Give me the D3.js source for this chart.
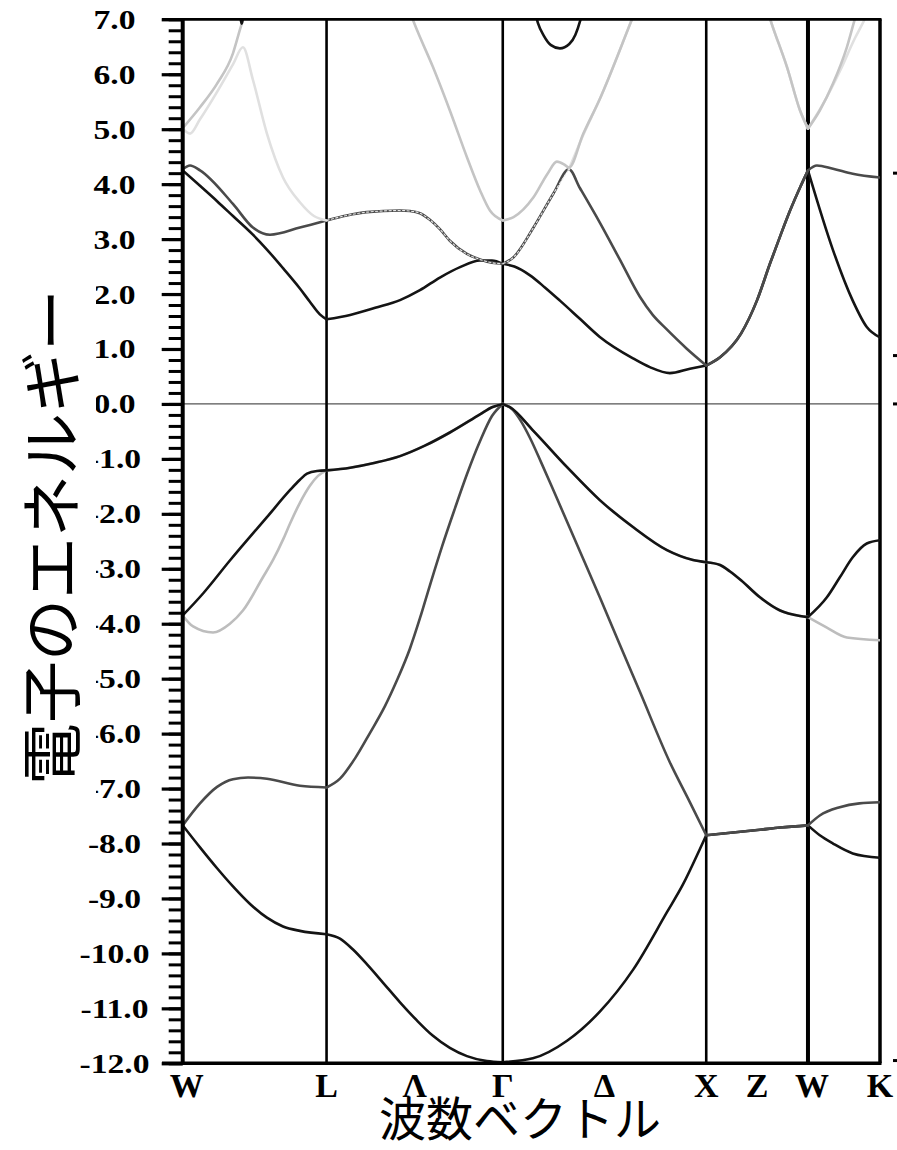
<!DOCTYPE html>
<html>
<head>
<meta charset="utf-8">
<script src="https://cdn.jsdelivr.net/npm/d3@7"></script>
<style>
  body { margin: 0; background: #fff; }
  svg { display: block; }
</style>
</head>
<body>
<svg id="chart" width="897" height="1150"></svg>
<script>
// ! symmetry points along the path W-L-Γ-X-W-K (k in units of 2π/a)
const symK = [0, 0.707, 1.573, 2.573, 3.073, 3.427];
const kLabels = ["W", "L", "Λ", "Γ", "Δ", "X", "Z", "W", "K"];
const kLabelPos = [0, 0.707, 1.140, 1.573, 2.073, 2.573, 2.823, 3.073, 3.427];

// ! energy axis (eV)
const yTicks = d3.range(7, -12.5, -1);
const yTickLabels = ["7.0", "6.0", "5.0", "4.0", "3.0", "2.0", "1.0", "0.0", "-1.0", "-2.0",
  "-3.0", "-4.0", "-5.0", "-6.0", "-7.0", "-8.0", "-9.0", "-10.0", "-11.0", "-12.0"];
const yMinor = d3.range(-12, 7.01, 0.2);
const rightMarks = [4.2, 0.88, 0, -11.95];

// ! bands as [k, E]
// degenerate stretches shared between bands
const valLG = [[0.823, -1.16], [0.946, -1.07], [1.068, -0.95], [1.190, -0.76], [1.313, -0.52],
  [1.461, -0.19], [1.520, -0.06], [1.573, 0]];
const valGX = [[1.608, -0.06], [1.721, -0.48], [1.889, -1.15], [2.050, -1.75], [2.213, -2.24],
  [2.380, -2.66], [2.508, -2.84], [2.573, -2.88]];
const valXW = [[2.641, -2.93], [2.690, -3.05], [2.744, -3.21], [2.837, -3.52], [2.936, -3.76],
  [3.034, -3.86], [3.073, -3.88]];
const lowXW = [[2.705, -7.80], [2.837, -7.75], [2.936, -7.71], [3.073, -7.67]];
const condXW = [[2.641, 0.85], [2.744, 1.28], [2.822, 1.88], [2.886, 2.55], [2.936, 3.05],
  [2.985, 3.52], [3.034, 3.94], [3.073, 4.25]];
const condLGX = [[0.806, 3.43], [0.904, 3.49], [1.068, 3.52], [1.117, 3.51], [1.166, 3.47],
  [1.215, 3.35], [1.264, 3.18], [1.313, 2.97], [1.397, 2.73], [1.461, 2.63], [1.520, 2.57],
  [1.573, 2.55], [1.626, 2.67], [1.724, 3.21], [1.822, 3.83], [1.898, 4.27]];

const band1 = [
  [0, -7.67], [0.085, -8.07], [0.169, -8.45], [0.247, -8.78], [0.331, -9.10], [0.414, -9.35],
  [0.493, -9.51], [0.576, -9.59], [0.707, -9.65],
  [0.773, -9.73], [0.837, -9.93], [0.906, -10.20], [0.984, -10.53], [1.068, -10.89], [1.151, -11.22],
  [1.230, -11.50], [1.313, -11.72], [1.397, -11.87], [1.495, -11.96], [1.573, -11.98],
  [1.721, -11.91], [1.889, -11.59], [2.050, -11.06], [2.213, -10.30], [2.380, -9.25], [2.458, -8.75],
  [2.542, -8.10], [2.573, -7.85],
  ...lowXW,
  [3.131, -7.85], [3.196, -8.00], [3.293, -8.18], [3.427, -8.26]
];
const band2 = [
  [0, -7.67], [0.085, -7.27], [0.169, -6.97], [0.247, -6.83], [0.321, -6.80], [0.414, -6.82],
  [0.576, -6.95], [0.707, -6.98],
  [0.773, -6.82], [0.847, -6.45], [0.920, -5.99], [0.994, -5.50], [1.053, -5.03], [1.117, -4.45],
  [1.166, -3.90], [1.215, -3.30], [1.274, -2.60], [1.338, -1.90], [1.397, -1.28], [1.461, -0.68],
  [1.520, -0.22], [1.573, 0],
  [1.620, -0.10], [1.660, -0.30], [1.707, -0.62], [1.760, -1.05], [1.830, -1.64], [1.952, -2.68],
  [2.050, -3.52], [2.148, -4.38], [2.247, -5.24], [2.394, -6.52], [2.493, -7.25], [2.573, -7.85],
  ...lowXW,
  [3.131, -7.49], [3.229, -7.34], [3.326, -7.27], [3.427, -7.25]
];
const band3 = [
  [0, -3.85], [0.051, -4.05], [0.149, -4.16], [0.232, -4.00], [0.296, -3.76], [0.395, -3.15],
  [0.444, -2.84], [0.493, -2.47], [0.527, -2.18], [0.576, -1.80], [0.625, -1.49], [0.665, -1.31],
  [0.707, -1.21],
  ...valLG, ...valGX, ...valXW,
  [3.166, -4.07], [3.264, -4.25], [3.427, -4.30]
];
const band4 = [
  [0, -3.85], [0.100, -3.45], [0.232, -2.85], [0.414, -2.06], [0.527, -1.57], [0.576, -1.38],
  [0.611, -1.27], [0.660, -1.22], [0.707, -1.21],
  ...valLG, ...valGX, ...valXW,
  [3.166, -3.52], [3.229, -3.16], [3.293, -2.79], [3.362, -2.54], [3.427, -2.48]
];
const band5 = [
  [0, 4.25], [0.085, 3.97], [0.169, 3.69], [0.247, 3.42], [0.345, 3.08], [0.414, 2.81],
  [0.493, 2.47], [0.576, 2.10], [0.625, 1.86], [0.674, 1.63], [0.707, 1.54],
  [0.823, 1.62], [0.946, 1.75], [1.068, 1.89], [1.166, 2.07], [1.264, 2.30], [1.363, 2.49],
  [1.461, 2.61], [1.520, 2.61], [1.573, 2.55],
  [1.630, 2.50], [1.707, 2.34], [1.780, 2.12], [1.854, 1.88], [1.952, 1.55], [2.050, 1.22],
  [2.213, 0.83], [2.296, 0.67], [2.394, 0.56], [2.493, 0.64], [2.573, 0.70],
  ...condXW,
  [3.196, 2.80], [3.293, 1.88], [3.362, 1.40], [3.427, 1.21]
];
const band6 = [
  [0, 4.27], [0.036, 4.34], [0.085, 4.25], [0.247, 3.64], [0.345, 3.21], [0.429, 3.08],
  [0.576, 3.21], [0.707, 3.34],
  ...condLGX,
  [1.952, 3.93], [2.050, 3.30], [2.148, 2.63], [2.247, 1.95], [2.310, 1.62], [2.378, 1.36],
  [2.476, 1.01], [2.573, 0.70],
  ...condXW,
  [3.117, 4.34], [3.196, 4.28], [3.293, 4.19], [3.427, 4.12]
];
const band7WL = [[0, 5.01], [0.036, 4.92], [0.085, 5.18], [0.169, 5.68], [0.247, 6.18], [0.296, 6.49],
  [0.345, 5.90], [0.414, 4.92], [0.493, 4.12], [0.576, 3.67], [0.645, 3.42], [0.707, 3.34]];
const band7LG = [[0.707, 3.34], ...condLGX];
const band7GX = [[1.898, 4.27], [1.969, 4.90], [2.050, 5.55], [2.208, 7.00], [2.260, 7.48]];
const band7XK = [[2.860, 7.30], [2.901, 6.85], [2.970, 6.13], [3.034, 5.34], [3.073, 5.01],
  [3.146, 5.45], [3.229, 6.05], [3.303, 6.65], [3.352, 7.00], [3.390, 7.30]];
const band8WL = [[0, 5.02], [0.085, 5.40], [0.169, 5.83], [0.247, 6.38], [0.282, 6.82], [0.305, 7.10], [0.330, 7.40]];
const band8LG = [[1.100, 7.30], [1.142, 6.89], [1.230, 6.13], [1.313, 5.34], [1.397, 4.49],
  [1.461, 3.89], [1.510, 3.52], [1.573, 3.34]];
const band8GX = [[1.573, 3.34], [1.626, 3.40], [1.724, 3.76], [1.793, 4.19], [1.839, 4.41],
  [1.874, 4.36], [1.898, 4.30], [1.969, 4.92], [2.050, 5.55], [2.208, 7.00], [2.260, 7.48]];
const band8XK = [[2.860, 7.30], [2.901, 6.85], [2.970, 6.13], [3.034, 5.34], [3.073, 5.01],
  [3.131, 5.34], [3.196, 5.83], [3.264, 6.49], [3.303, 7.00], [3.340, 7.45]];
const band9WL = [[0.280, 7.20], [0.290, 6.92], [0.300, 7.20]];
const band9GX = [[1.722, 7.30], [1.746, 6.93], [1.775, 6.70], [1.810, 6.53], [1.854, 6.47],
  [1.900, 6.55], [1.930, 6.72], [1.954, 6.98], [1.975, 7.30]];

// drawing order = band index; later ones sit on top where bands coincide
const bands = [
  { pts: band1, color: "#141414" },
  { pts: band2, color: "#4a4a4a" },
  { pts: band3, color: "#bdbdbd" },
  { pts: band4, color: "#141414" },
  { pts: band5, color: "#141414" },
  { pts: band6, color: "#4a4a4a" },
  { pts: band7WL, color: "#e0e0e0" },
  { pts: band7LG, color: "#e6e6e6", striped: true },
  { pts: band7GX, color: "#e0e0e0" },
  { pts: band7XK, color: "#e0e0e0" },
  { pts: band8WL, color: "#c4c4c4" },
  { pts: band8LG, color: "#c4c4c4" },
  { pts: band8GX, color: "#c4c4c4" },
  { pts: band8XK, color: "#c4c4c4" },
  { pts: band9WL, color: "#141414" },
  { pts: band9GX, color: "#141414" }
];

// ! scales
const x = d3.scaleLinear().domain([0, 3.427]).range([182.7, 880]);
const y = d3.scaleLinear().domain([-12, 7]).range([1063.3, 19.3]);
const x0 = x.range()[0], x1 = x.range()[1];
const yTop = y.range()[1], yBot = y.range()[0];

const svg = d3.select("#chart");

svg.append("defs").append("clipPath").attr("id", "plot-clip")
  .append("rect")
  .attr("x", x0).attr("y", yTop)
  .attr("width", x1 - x0).attr("height", yBot - yTop);

// zero line
svg.append("line")
  .attr("x1", x0).attr("x2", x1)
  .attr("y1", y(0)).attr("y2", y(0))
  .attr("stroke", "#555").attr("stroke-width", 1.2);

// vertical lines at the symmetry points
svg.append("g").selectAll("line")
  .data(symK.slice(1))
  .join("line")
  .attr("x1", (d) => x(d)).attr("x2", (d) => x(d))
  .attr("y1", yTop).attr("y2", yBot)
  .attr("stroke", "#000")
  .attr("stroke-width", (d, i) => (i === 3 ? 4 : i === 4 ? 3.5 : 2.6));

// split a band at symmetry points so kinks there stay sharp
function splitAtSym(pts) {
  const pieces = [];
  let cur = [];
  pts.forEach((p) => {
    cur.push(p);
    if (symK.includes(p[0]) && cur.length > 1) {
      pieces.push(cur);
      cur = [p];
    }
  });
  if (cur.length > 1) pieces.push(cur);
  return pieces;
}

const line = d3.line()
  .x((d) => x(d[0]))
  .y((d) => y(d[1]))
  .curve(d3.curveMonotoneX);

const bandG = svg.append("g").attr("clip-path", "url(#plot-clip)");

bands.forEach(function (b) {
  splitAtSym(b.pts).forEach(function (piece) {
    if (b.striped) {
      // two bands on top of each other: light dashes inside the dark one
      bandG.append("path")
        .attr("d", line(piece))
        .attr("fill", "none")
        .attr("stroke", b.color)
        .attr("stroke-width", 1.1)
        .attr("stroke-dasharray", "3,1.5");
    } else {
      bandG.append("path")
        .attr("d", line(piece))
        .attr("fill", "none")
        .attr("stroke", b.color)
        .attr("stroke-width", 2.6)
        .attr("stroke-linecap", "round")
        .attr("stroke-linejoin", "round");
    }
  });
});

// ! frame and left axis
const frame = svg.append("g").attr("stroke", "#000");
frame.append("line").attr("x1", 162).attr("x2", x1 + 1.5).attr("y1", yTop).attr("y2", yTop).attr("stroke-width", 2.8);
frame.append("line").attr("x1", 162).attr("x2", x1 + 1.5).attr("y1", yBot).attr("y2", yBot).attr("stroke-width", 3.6);
frame.append("line").attr("x1", x0).attr("x2", x0).attr("y1", yTop).attr("y2", yBot).attr("stroke-width", 4);

svg.append("g")
  .attr("transform", `translate(${x0},0)`)
  .call(d3.axisLeft(y).tickValues(yMinor).tickSize(14).tickFormat(""))
  .call((g) => g.select(".domain").remove())
  .selectAll("line").attr("stroke", "#000").attr("stroke-width", 3);

svg.append("g")
  .attr("transform", `translate(${x0},0)`)
  .call(d3.axisLeft(y).tickValues(yTicks).tickSize(21).tickFormat(""))
  .call((g) => g.select(".domain").remove())
  .selectAll("line").attr("stroke", "#000").attr("stroke-width", 3.2);

// y tick labels (bold serif, a bit wide)
svg.append("g")
  .selectAll("text")
  .data(yTicks)
  .join("text")
  .attr("transform", (d) => `translate(114.5,${y(d)}) scale(1.2,1)`)
  .attr("y", 9.5)
  .attr("text-anchor", "middle")
  .style("font-family", "'Liberation Serif', 'DejaVu Serif', serif")
  .style("font-weight", "bold")
  .style("font-size", "28px")
  .attr("fill", "#000")
  .text((d, i) => yTickLabels[i]);

// small marks at the right edge
svg.append("g").selectAll("line")
  .data(rightMarks)
  .join("line")
  .attr("x1", 893).attr("x2", 897)
  .attr("y1", (d) => y(d)).attr("y2", (d) => y(d))
  .attr("stroke", "#000").attr("stroke-width", 3);

// x tick labels
svg.append("g")
  .selectAll("text")
  .data(kLabels)
  .join("text")
  .attr("x", (d, i) => x(kLabelPos[i]) + (d === "W" ? 4 : 0))
  .attr("y", 1097)
  .attr("text-anchor", "middle")
  .style("font-family", "'Liberation Serif', 'DejaVu Serif', serif")
  .style("font-weight", "bold")
  .style("font-size", "34px")
  .attr("fill", "#000")
  .text((d) => d);

// ! axis titles; the y title box hides the minus signs under it
svg.append("rect")
  .attr("x", 0).attr("y", 286)
  .attr("width", 96).attr("height", 512)
  .attr("fill", "#fff");

svg.append("text")
  .attr("transform", "translate(75,537) rotate(-90)")
  .attr("text-anchor", "middle")
  .style("font-family", "'Noto Sans CJK JP', sans-serif")
  .style("font-size", "62px")
  .attr("fill", "#000")
  .text("電子のエネルギー");

svg.append("text")
  .attr("x", 520).attr("y", 1136)
  .attr("text-anchor", "middle")
  .style("font-family", "'Noto Sans CJK JP', sans-serif")
  .style("font-size", "47px")
  .attr("fill", "#000")
  .text("波数ベクトル");
</script>
</body>
</html>
